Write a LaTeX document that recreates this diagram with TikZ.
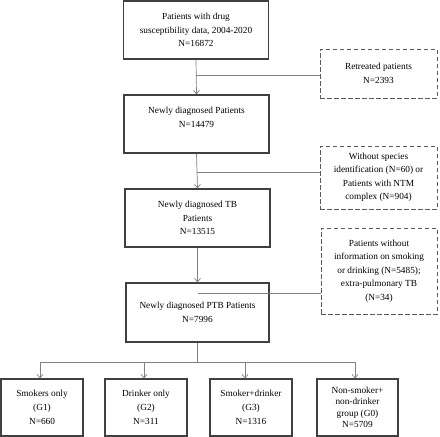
\documentclass[tikz,border=0pt]{standalone}
\usepackage{fontspec}
\setmainfont{Liberation Serif}
\usetikzlibrary{arrows.meta,calc}
\begin{document}
\begin{tikzpicture}[x=1pt,y=1pt,
  mainbox/.style={draw=black!75,line width=1.2pt,align=center,inner sep=1pt,
    font=\fontsize{9.3}{13.8}\selectfont},
  exbox/.style={draw=black!65,line width=1pt,dash pattern=on 4.5pt off 2.5pt,align=center,inner sep=1pt,
    font=\fontsize{9.3}{13.5}\selectfont},
  conn/.style={draw=black!50,line width=0.7pt},
  arr/.style={conn,-{Straight Barb[length=3.5pt,width=6pt]}}]
\useasboundingbox (0,0) rectangle (440,-437);
\node[mainbox,minimum width=145pt,minimum height=58pt] (b1) at (196,-30)
  {Patients with drug\\susceptibility data, 2004-2020\\N=16872};
\node[mainbox,minimum width=145pt,minimum height=58pt] (b2) at (196.5,-124)
  {Newly diagnosed Patients\\N=14479\\\mbox{}};
\node[mainbox,minimum width=145pt,minimum height=58pt] (b3) at (197.5,-218)
  {Newly diagnosed TB\\Patients\\N=13515};
\node[mainbox,minimum width=143pt,minimum height=59pt] (b4) at (197.5,-312.5)
  {Newly diagnosed PTB Patients\\N=7996};
\node[exbox,minimum width=117pt,minimum height=49pt] (d1) at (378.5,-73.5)
  {Retreated patients\\N=2393};
\node[exbox,minimum width=117pt,minimum height=63pt] (d2) at (378.5,-177.5)
  {Without species\\identification (N=60) or\\Patients with NTM\\complex (N=904)};
\node[exbox,minimum width=116pt,minimum height=86pt] (d3) at (379,-271)
  {Patients without\\information on smoking\\or drinking (N=5485);\\extra-pulmonary TB\\(N=34)};
\node[mainbox,minimum width=82pt,minimum height=57pt] (g1) at (42,-407.5)
  {Smokers only\\(G1)\\N=660};
\node[mainbox,minimum width=82pt,minimum height=57pt] (g2) at (146,-407.5)
  {Drinker only\\(G2)\\N=311};
\node[mainbox,minimum width=82pt,minimum height=57pt] (g3) at (251,-407.5)
  {Smoker+drinker\\(G3)\\N=1316};
\node[mainbox,minimum width=81pt,minimum height=57pt,font=\fontsize{9.3}{11.5}\selectfont] (g0) at (357.5,-407.5)
  {Non-smoker+\\non-drinker\\group (G0)\\N=5709};
% trunk
\coordinate (j1) at (b1.south |- 0,-75);
\coordinate (j2) at (b2.south |- 0,-172);
\coordinate (j3) at (b3.south |- 0,-293);
\draw[arr] (b1.south) -- (b2.north);
\draw[conn] (j1) -- (j1 -| d1.west);
\draw[arr] (b2.south) -- (b3.north);
\draw[conn] (j2) -- (j2 -| d2.west);
\draw[arr] (b3.south) -- (b4.north);
\draw[conn] (j3) -- (j3 -| d3.west);
% branches
\coordinate (k) at (b4.south |- 0,-362);
\coordinate (h1) at (40,-362);
\coordinate (h2) at (144,-362);
\coordinate (h3) at (245,-362);
\coordinate (h4) at (355,-362);
\draw[conn] (b4.south) -- (k);
\draw[conn] (h1) -- (h4);
\draw[arr] (h1) -- (h1 |- g1.north);
\draw[arr] (h2) -- (h2 |- g2.north);
\draw[arr] (h3) -- (h3 |- g3.north);
\draw[arr] (h4) -- (h4 |- g0.north);
\end{tikzpicture}
\end{document}
